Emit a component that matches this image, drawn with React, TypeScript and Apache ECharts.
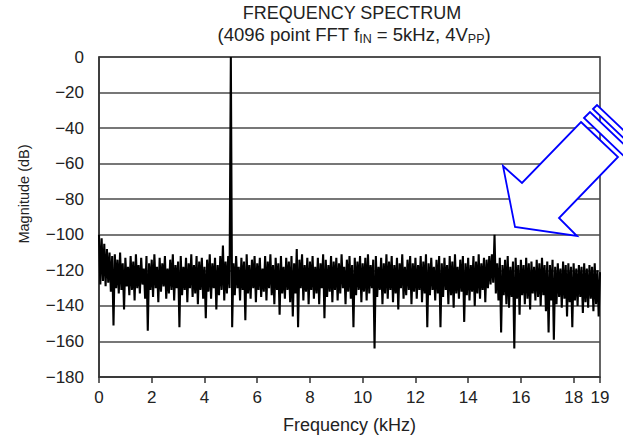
import React, { useEffect, useRef } from 'react';
import * as echarts from 'echarts';

const TITLE = 'FREQUENCY SPECTRUM';
const X_NAME = 'Frequency (kHz)';
const Y_NAME = 'Magnitude (dB)';

const FREQ_START_KHZ = 0;
const FREQ_STEP_KHZ = 0.05;

// magnitude (dB), one value per 0.05 kHz bin
const mag0to5 = [
  -100, -128, -102, -126, -105, -129, -108, -127, -110, -132, -112, -151, -111, -130, -114, -133, -110, -131, -116, -142,
  -113, -129, -118, -134, -112, -131, -115, -137, -111, -130, -117, -133, -113, -128, -119, -136, -112, -154, -116, -131,
  -114, -135, -111, -130, -118, -138, -113, -132, -116, -129, -112, -136, -119, -133, -114, -131, -111, -137, -117, -130,
  -115, -152, -112, -134, -118, -131, -113, -138, -116, -130, -111, -135, -117, -133, -112, -139, -115, -131, -113, -136,
  -118, -147, -114, -132, -111, -136, -116, -130, -113, -142, -117, -134, -112, -131, -106, -137, -115, -133, -112, -130,
];
const mag5to10 = [
  0, -152, -116, -134, -112, -130, -118, -137, -113, -131, -115, -148, -111, -133, -117, -136, -114, -130, -112, -138,
  -116, -131, -113, -135, -119, -132, -112, -137, -115, -130, -111, -134, -117, -139, -113, -131, -116, -145, -112, -133,
  -118, -136, -113, -131, -115, -138, -112, -146, -116, -133, -108, -152, -114, -130, -111, -137, -117, -132, -113, -139,
  -115, -131, -112, -136, -118, -133, -113, -139, -116, -130, -111, -147, -114, -135, -117, -132, -112, -138, -115, -131,
  -113, -137, -116, -133, -111, -130, -118, -139, -114, -132, -112, -136, -117, -152, -113, -134, -115, -131, -112, -138,
];
const mag10to15 = [
  -116, -132, -113, -137, -111, -133, -117, -130, -114, -164, -112, -135, -118, -131, -113, -139, -116, -133, -111, -136,
  -115, -131, -112, -138, -117, -133, -113, -142, -116, -130, -111, -136, -118, -134, -114, -131, -112, -139, -116, -132,
  -113, -136, -117, -131, -112, -138, -115, -133, -111, -152, -116, -134, -113, -131, -118, -137, -114, -133, -112, -152,
  -116, -135, -113, -131, -117, -139, -112, -134, -115, -141, -111, -133, -118, -136, -114, -132, -112, -149, -116, -134,
  -113, -137, -117, -132, -112, -140, -115, -133, -111, -136, -116, -131, -113, -138, -114, -130, -112, -128, -111, -127,
];
const mag15to19 = [
  -100, -133, -116, -137, -113, -155, -117, -134, -114, -139, -112, -141, -118, -135, -115, -164, -113, -136, -117, -145,
  -114, -134, -117, -139, -113, -136, -116, -142, -115, -133, -118, -137, -114, -135, -116, -140, -113, -134, -117, -143,
  -115, -155, -117, -137, -114, -159, -118, -139, -116, -135, -119, -141, -115, -136, -117, -146, -116, -138, -118, -152,
  -116, -137, -119, -140, -117, -135, -118, -144, -116, -138, -119, -141, -117, -136, -118, -143, -116, -139, -120, -146,
  -121,
];

const FONT = '"Liberation Sans", Arial, Helvetica, sans-serif';

export default function App() {
  const ref = useRef<HTMLDivElement>(null);

  useEffect(() => {
    if (!ref.current) return;
    const chart = echarts.init(ref.current, undefined, { renderer: 'svg' });
    const magnitude = [...mag0to5, ...mag5to10, ...mag10to15, ...mag15to19];
    const data = magnitude.map((v, i) => [+(FREQ_START_KHZ + i * FREQ_STEP_KHZ).toFixed(2), v]);

    const blue = '#0000ff';
    chart.setOption({
      animation: false,
      backgroundColor: '#ffffff',
      textStyle: { fontFamily: FONT },
      grid: {
        left: 99,
        right: 23,
        top: 57,
        bottom: 63,
        show: true,
        borderColor: '#333',
        borderWidth: 1.5,
      },
      xAxis: {
        type: 'value',
        min: 0,
        max: 19,
        interval: 2,
        name: X_NAME,
        nameLocation: 'middle',
        nameGap: 39,
        nameTextStyle: { fontSize: 18, color: '#222', fontFamily: FONT },
        axisLine: { show: true, onZero: false, lineStyle: { color: '#333', width: 1.5 } },
        axisTick: { show: true, length: 6, lineStyle: { color: '#333', width: 1.5 } },
        axisLabel: { fontSize: 17, color: '#222', margin: 12, fontFamily: FONT },
        splitLine: { show: false },
      },
      yAxis: {
        type: 'value',
        min: -180,
        max: 0,
        interval: 20,
        axisLine: { show: true, onZero: false, lineStyle: { color: '#333', width: 1.5 } },
        axisTick: { show: false },
        axisLabel: {
          fontSize: 17,
          color: '#222',
          margin: 15,
          fontFamily: FONT,
          formatter: (v: number) => String(v).replace('-', '\u2212'),
        },
        splitLine: { show: true, lineStyle: { color: '#4a4a4a', width: 1.5 } },
      },
      series: [
        {
          type: 'line',
          data,
          symbol: 'none',
          showSymbol: false,
          silent: true,
          clip: true,
          lineStyle: { color: '#000', width: 2.1 },
          z: 3,
        },
      ],
      graphic: [
        {
          type: 'text',
          x: 352,
          y: 13,
          style: {
            text: TITLE,
            fontSize: 18,
            fontFamily: FONT,
            fill: '#222',
            align: 'center',
            verticalAlign: 'middle',
          },
        },
        {
          type: 'text',
          x: 354,
          y: 34,
          style: {
            text: '{n|(4096 point FFT f}{s|IN}{n| = 5kHz, 4V}{s|PP}{n|)}',
            fontFamily: FONT,
            fill: '#222',
            align: 'center',
            verticalAlign: 'middle',
            rich: {
              n: { fontSize: 18.5, lineHeight: 22, fontFamily: FONT, fill: '#222' },
              s: { fontSize: 12.5, lineHeight: 10, verticalAlign: 'bottom', fontFamily: FONT, fill: '#222' },
            },
          },
        },
        {
          type: 'text',
          x: 24,
          y: 194,
          rotation: Math.PI / 2,
          style: {
            text: Y_NAME,
            fontSize: 14.5,
            fontFamily: FONT,
            fill: '#222',
            align: 'center',
            verticalAlign: 'middle',
          },
        },
        {
          type: 'polygon',
          z: 100,
          shape: {
            points: [
              [581, 122],
              [618, 157],
              [559, 218],
              [577, 236],
              [515, 227],
              [503, 166],
              [522, 183],
            ],
          },
          style: { fill: '#ffffff', stroke: blue, lineWidth: 1.8 },
        },
        {
          type: 'polygon',
          z: 100,
          shape: {
            points: [
              [584, 118],
              [590, 112],
              [633, 153],
              [627, 159],
            ],
          },
          style: { fill: '#ffffff', stroke: blue, lineWidth: 1.8 },
        },
        {
          type: 'polygon',
          z: 100,
          shape: {
            points: [
              [593, 109],
              [597, 105],
              [640, 146],
              [636, 150],
            ],
          },
          style: { fill: '#ffffff', stroke: blue, lineWidth: 1.8 },
        },
      ],
    });
    return () => chart.dispose();
  }, []);

  return (
    <div
      ref={ref}
      style={{ position: 'fixed', left: 0, top: 0, width: 623, height: 440, background: '#fff' }}
    />
  );
}
